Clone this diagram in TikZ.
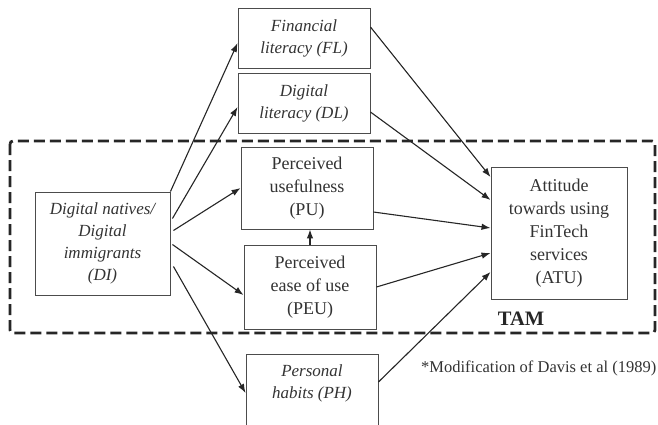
\documentclass[tikz,border=0pt]{standalone}
\usepackage{fontspec}
\setmainfont{Liberation Serif}
\usetikzlibrary{arrows.meta}
\begin{document}
\begin{tikzpicture}[x=1pt,y=-1pt,
  box/.style={draw=black!70,line width=0.9pt,inner sep=0pt,align=center,
    font=\fontsize{18}{23}\selectfont,text=black!80},
  ibox/.style={box,font=\fontsize{17}{22}\selectfont\itshape},
  txt/.style={inner sep=0pt,align=center,font=\fontsize{17}{22}\selectfont\itshape,text=black!80},
  arr/.style={draw=black!85,line width=1.1pt,-{Latex[length=9pt,width=6.5pt]}},
  tam/.style={draw=black!85,line width=2.8pt,dash pattern=on 11pt off 5pt,rounded corners=3pt}]
\useasboundingbox (0,0) rectangle (658,424);
\fill[white] (0,0) rectangle (658,424);
% TAM frame
\draw[tam] (10,141) rectangle (655,333);
\node[inner sep=0pt,font=\fontsize{20.5}{24}\selectfont\bfseries,text=black!85] (tamlab) at (521,319) {TAM};
% nodes
\node[ibox,minimum width=135,minimum height=103] (DI) at (102.5,243.5) {Digital natives/\\Digital\\immigrants\\(DI)};
\node[ibox,minimum width=132,minimum height=60] (FL) at (304,38) {Financial\\literacy (FL)};
\node[ibox,minimum width=132,minimum height=60] (DL) at (304,103) {Digital\\literacy (DL)};
\node[box,minimum width=132,minimum height=82] (PU) at (307,188) {Perceived\\usefulness\\(PU)};
\node[box,minimum width=132,minimum height=84] (PEU) at (310,287) {Perceived\\ease of use\\(PEU)};
\node[box,minimum width=132,minimum height=110,anchor=north] (PH) at (312,354) {};
\node[txt] (PHt) at (312,383) {Personal\\habits (PH)};
\node[box,minimum width=136,minimum height=132] (ATU) at (559,233) {Attitude\\towards using\\FinTech\\services\\(ATU)};
\node[inner sep=0pt,anchor=west,font=\fontsize{16.5}{20}\selectfont,text=black!80] (note) at (421,368) {*Modification of Davis et al (1989)};
% connectors
\draw[arr] (DI.north east) -- ([yshift=-5pt]FL.west);
\draw[arr] ([xshift=2pt,yshift=25pt]DI.east) -- ([yshift=-4pt]DL.west);
\draw[arr] ([xshift=3pt,yshift=13pt]DI.east) -- (PU.west);
\draw[arr] ([xshift=2pt,yshift=-1pt]DI.east) -- ([yshift=-8pt]PEU.west);
\draw[arr] ([xshift=3pt,yshift=-23pt]DI.east) -- ([yshift=-39pt]PH.north west);
\draw[arr] (PEU.north) -- (PEU.north |- PU.south);
\draw[arr] ([yshift=11pt]FL.east) -- ([yshift=56pt]ATU.west);
\draw[arr] ([yshift=-9pt]DL.east) -- ([yshift=33pt]ATU.west);
\draw[arr] ([yshift=-24pt]PU.east) -- ([yshift=5pt]ATU.west);
\draw[arr] (PEU.east) -- ([yshift=-20pt]ATU.west);
\draw[arr] ([yshift=-28pt]PH.north east) -- ([yshift=-39pt]ATU.west);
\end{tikzpicture}
\end{document}
